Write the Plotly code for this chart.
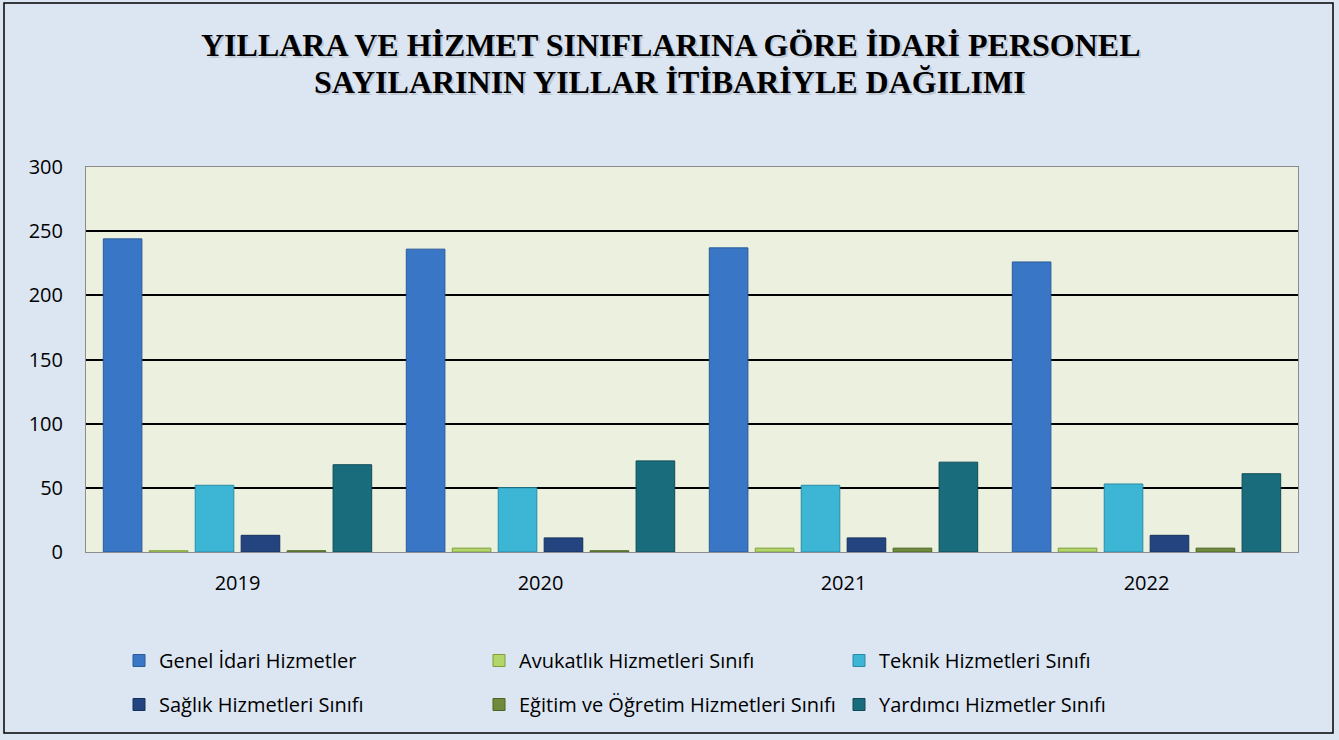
import plotly.graph_objects as go

years = ["2019", "2020", "2021", "2022"]
series_names = [
    "Genel İdari Hizmetler",
    "Avukatlık Hizmetleri Sınıfı",
    "Teknik Hizmetleri Sınıfı",
    "Sağlık Hizmetleri Sınıfı",
    "Eğitim ve Öğretim Hizmetleri Sınıfı",
    "Yardımcı Hizmetler Sınıfı",
]
genel = [244, 236, 237, 226]
avukatlik = [1, 3, 3, 3]
teknik = [52, 50, 52, 53]
saglik = [13, 11, 11, 13]
egitim = [1, 1, 3, 3]
yardimci = [68, 71, 70, 61]
values = [genel, avukatlik, teknik, saglik, egitim, yardimci]
title_lines = [
    "YILLARA VE HİZMET SINIFLARINA GÖRE İDARİ PERSONEL",
    "SAYILARININ YILLAR İTİBARİYLE DAĞILIMI",
]
colors = ["#3A76C6", "#B3D66A", "#3DB6D6", "#23447F", "#6F8A3A", "#196C7C"]
lines = ["#2A5A9A", "#7E9E3C", "#2A8BA6", "#15305E", "#4C6524", "#0F4B57"]

W, H = 1339, 740
L, R, T, B = 86, 41, 167, 188
pw, ph = W - L - R, H - T - B

def px_y(py):
    return (ph + T - py) / ph

def px_x(px):
    return (px - L) / pw

fig = go.Figure()
for i, (name, vals, c, lc) in enumerate(zip(series_names, values, colors, lines)):
    fig.add_trace(go.Bar(
        x=years, y=vals, name=name,
        marker=dict(color=c, line=dict(color=lc, width=1)),
        legend="legend" if i < 3 else "legend2",
    ))

legend_common = dict(
    orientation="h", xanchor="left", yanchor="top",
    entrywidth=315, entrywidthmode="pixels",
    font=dict(size=20, family="Open Sans", color="#000000"),
    bgcolor="rgba(0,0,0,0)", itemwidth=30,
)

fig.update_layout(
    width=W, height=H,
    margin=dict(l=L, r=R, t=T, b=B),
    paper_bgcolor="#DCE6F2",
    plot_bgcolor="#EBF1DE",
    barmode="group",
    bargap=0.09,
    bargroupgap=0.16,
    font=dict(family="Open Sans", size=20, color="#000000"),
    yaxis=dict(
        range=[0, 300], dtick=50, showgrid=True, gridcolor="#000000", gridwidth=1.5,
        showline=True, linecolor="#8C8C8C", mirror=True, zeroline=False,
        tickfont=dict(size=20, family="Open Sans"), ticks="", ticklabelstandoff=18,
    ),
    xaxis=dict(
        showline=True, linecolor="#8C8C8C", mirror=True,
        tickfont=dict(size=20, family="Open Sans"), ticks="", ticklabelstandoff=13,
    ),
    legend=dict(x=px_x(119), y=px_y(641), **legend_common),
    legend2=dict(x=px_x(119), y=px_y(685), **legend_common),
    showlegend=True,
)

title_y = [41, 78]
for text, ty in zip(title_lines, title_y):
    fig.add_annotation(
        text=text, xref="paper", yref="paper", x=px_x(670) + 2 / pw, y=px_y(ty + 4) - 2 / ph,
        xanchor="center", yanchor="middle", showarrow=False,
        font=dict(family="Liberation Serif", size=32, color="rgba(0,0,0,0.15)", weight="bold"),
    )
    fig.add_annotation(
        text=text, xref="paper", yref="paper", x=px_x(670), y=px_y(ty + 4),
        xanchor="center", yanchor="middle", showarrow=False,
        font=dict(family="Liberation Serif", size=32, color="#000000", weight="bold"),
    )

fig.add_shape(
    type="rect", xref="paper", yref="paper",
    x0=px_x(4), x1=px_x(1333), y0=px_y(733), y1=px_y(3),
    line=dict(color="#000000", width=1.5), fillcolor="rgba(0,0,0,0)", layer="below",
)

fig.write_html(
    "out.html",
    config={"displayModeBar": False},
    post_script="document.body.style.margin='0';",
)
